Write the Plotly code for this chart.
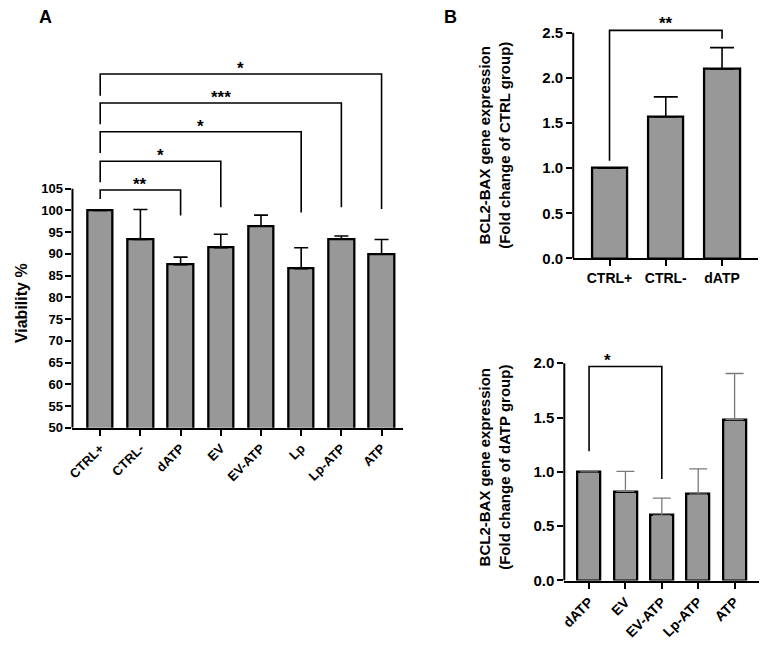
import plotly.graph_objects as go

W, H = 766, 653
FONT = "Liberation Sans, Arial, Helvetica, sans-serif"
BAR_FILL = "#989898"

# ---------------- Panel A data ----------------
a_cats = ["CTRL+", "CTRL-", "dATP", "EV", "EV-ATP", "Lp", "Lp-ATP", "ATP"]
a_vals = [100.0, 93.3, 87.5, 91.4, 96.4, 86.6, 93.4, 89.9]
a_err = [0.0, 6.9, 1.75, 3.1, 2.5, 4.8, 0.7, 3.4]
a_ticks = [50, 55, 60, 65, 70, 75, 80, 85, 90, 95, 100, 105]
# brackets: left cat, right cat, bar level, left leg end, right leg end, label
a_br_left = ["CTRL+"] * 5
a_br_right = ["dATP", "EV", "Lp", "Lp-ATP", "ATP"]
a_br_y = [104.7, 111.3, 118.1, 124.7, 131.4]
a_br_lend = [102.6, 106.5, 113.2, 119.8, 126.4]
a_br_rend = [98.8, 100.7, 99.5, 100.7, 100.3]
a_br_lab = ["**", "*", "*", "***", "*"]
a_br_labx = [1.0, 1.5, 2.5, 3.0, 3.5]

# ---------------- Panel B top data ----------------
b1_cats = ["CTRL+", "CTRL-", "dATP"]
b1_vals = [1.0, 1.57, 2.10]
b1_err = [0.0, 0.22, 0.235]
b1_ticks = [0.0, 0.5, 1.0, 1.5, 2.0, 2.5]
b1_tick_text = ["0.0", "0.5", "1.0", "1.5", "2.0", "2.5"]
b1_br = dict(left="CTRL+", right="dATP", y=2.527, lend=1.083, rend=2.433, lab="**", labx=1.0)

# ---------------- Panel B bottom data ----------------
b2_cats = ["dATP", "EV", "EV-ATP", "Lp-ATP", "ATP"]
b2_vals = [1.0, 0.82, 0.60, 0.795, 1.48]
b2_err = [0.0, 0.185, 0.158, 0.232, 0.425]
b2_ticks = [0.0, 0.5, 1.0, 1.5, 2.0]
b2_tick_text = ["0.0", "0.5", "1.0", "1.5", "2.0"]
b2_br = dict(left="dATP", right="EV-ATP", y=1.97, lend=1.19, rend=0.934, lab="*", labx=0.5)


def px_x(p):
    return p / W


def px_y(p):
    return 1 - p / H


def b(s):
    return "<b>" + str(s) + "</b>"


fig = go.Figure()


def add_bars(cats, vals, errs, xa, ya, err_color, err_thick, cap):
    fig.add_trace(go.Bar(
        x=cats, y=vals, xaxis=xa, yaxis=ya, width=0.63,
        marker=dict(color=BAR_FILL, line=dict(color="black", width=2.3)),
        error_y=dict(type="data", array=errs, arrayminus=[0] * len(errs), symmetric=False,
                     color=err_color, thickness=err_thick, width=cap, visible=True),
        showlegend=False, hoverinfo="skip",
    ))


def add_bracket(left, right, y, lend, rend, xa, ya):
    fig.add_trace(go.Scatter(
        x=[left, left, right, right], y=[lend, y, y, rend], xaxis=xa, yaxis=ya,
        mode="lines", line=dict(color="black", width=1.6),
        showlegend=False, hoverinfo="skip", cliponaxis=False,
    ))


add_bars(a_cats, a_vals, a_err, "x", "y", "black", 1.6, 7)
for l, r, y, le, re_ in zip(a_br_left, a_br_right, a_br_y, a_br_lend, a_br_rend):
    add_bracket(l, r, y, le, re_, "x", "y")

add_bars(b1_cats, b1_vals, b1_err, "x2", "y2", "black", 1.6, 12)
add_bracket(b1_br["left"], b1_br["right"], b1_br["y"], b1_br["lend"], b1_br["rend"], "x2", "y2")

add_bars(b2_cats, b2_vals, b2_err, "x3", "y3", "#7a7a7a", 1.3, 9)
add_bracket(b2_br["left"], b2_br["right"], b2_br["y"], b2_br["lend"], b2_br["rend"], "x3", "y3")

tickfont_a = dict(family=FONT, size=13, color="black")
tickfont_b = dict(family=FONT, size=15, color="black")
xtickfont_b = dict(family=FONT, size=14, color="black")

common_x = dict(type="category", showline=True, linecolor="black", linewidth=2,
                ticks="outside", ticklen=6, tickwidth=2, tickcolor="black",
                showgrid=False, zeroline=False, fixedrange=True)
common_y = dict(showline=False, ticks="outside", ticklen=6, tickwidth=2, tickcolor="black",
                showgrid=False, zeroline=False, fixedrange=True)

fig.update_layout(
    width=W, height=H, margin=dict(l=0, r=0, t=0, b=0),
    paper_bgcolor="white", plot_bgcolor="white",
    font=dict(family=FONT, color="black"),
    bargap=0,
    xaxis=dict(**common_x, domain=[px_x(67), px_x(400)], range=[-0.69, 7.53],
               tickangle=-45, tickfont=tickfont_a, anchor="y",
               tickvals=a_cats, ticktext=[b(c) for c in a_cats]),
    yaxis=dict(**common_y, domain=[px_y(433), px_y(59)], range=[50, 135],
               tickvals=a_ticks, ticktext=[b(t) for t in a_ticks], tickfont=tickfont_a, anchor="x"),
    xaxis2=dict(**common_x, domain=[px_x(571.7), px_x(758)], range=[-0.645, 2.64],
                tickangle=0, tickfont=xtickfont_b, anchor="y2",
                tickvals=b1_cats, ticktext=[b(c) for c in b1_cats]),
    yaxis2=dict(**common_y, domain=[px_y(261.7), px_y(14.9)], range=[0, 2.7],
                tickvals=b1_ticks, ticktext=[b(t) for t in b1_tick_text], tickfont=tickfont_b,
                anchor="x2"),
    xaxis3=dict(**common_x, domain=[px_x(562.7), px_x(759.3)], range=[-0.68, 4.68],
                tickangle=-45, tickfont=xtickfont_b, anchor="y3",
                tickvals=b2_cats, ticktext=[b(c) for c in b2_cats]),
    yaxis3=dict(**common_y, domain=[px_y(587.7), px_y(351.2)], range=[0, 2.15],
                tickvals=b2_ticks, ticktext=[b(t) for t in b2_tick_text], tickfont=tickfont_b,
                anchor="x3"),
)

# y axis lines only up to the last tick
shapes = [
    dict(type="line", xref="x domain", yref="y", x0=0, x1=0, y0=50, y1=105,
         line=dict(color="black", width=2)),
    dict(type="line", xref="x2 domain", yref="y2", x0=0, x1=0, y0=0, y1=2.5,
         line=dict(color="black", width=2)),
    dict(type="line", xref="x3 domain", yref="y3", x0=0, x1=0, y0=0, y1=2.0,
         line=dict(color="black", width=2)),
]
fig.update_layout(shapes=shapes)

star_font = dict(family=FONT, size=17, color="black")
ann = []
for lx, y, lab in zip(a_br_labx, a_br_y, a_br_lab):
    ann.append(dict(x=lx, y=y, xref="x", yref="y", text=b(lab), showarrow=False,
                    font=star_font, xanchor="center", yanchor="bottom", yshift=-6))
ann.append(dict(x=b1_br["labx"], y=b1_br["y"], xref="x2", yref="y2", text=b(b1_br["lab"]),
                showarrow=False, font=star_font, xanchor="center", yanchor="bottom", yshift=-5))
ann.append(dict(x=b2_br["labx"], y=b2_br["y"], xref="x3", yref="y3", text=b(b2_br["lab"]),
                showarrow=False, font=star_font, xanchor="center", yanchor="bottom", yshift=-6))

title_font = dict(family=FONT, size=16, color="black")
ytitle_font = dict(family=FONT, size=15, color="black")
letter_font = dict(family=FONT, size=18, color="black")
ann += [
    dict(x=px_x(40), y=px_y(17), xref="paper", yref="paper", text=b("A"), showarrow=False,
         font=letter_font, xanchor="center", yanchor="middle"),
    dict(x=px_x(448), y=px_y(17), xref="paper", yref="paper", text=b("B"), showarrow=False,
         font=letter_font, xanchor="center", yanchor="middle"),
    dict(x=px_x(15), y=px_y(307), xref="paper", yref="paper", text=b("Viability %"),
         textangle=-90, showarrow=False, font=title_font, xanchor="center", yanchor="middle"),
    dict(x=px_x(492.5), y=px_y(147), xref="paper", yref="paper",
         text=b("BCL2-BAX gene expression<br>(Fold change of CTRL group)"),
         textangle=-90, showarrow=False, font=ytitle_font, xanchor="center", yanchor="middle"),
    dict(x=px_x(492.5), y=px_y(473), xref="paper", yref="paper",
         text=b("BCL2-BAX gene expression<br>(Fold change of dATP group)"),
         textangle=-90, showarrow=False, font=ytitle_font, xanchor="center", yanchor="middle"),
]
fig.update_layout(annotations=ann)

fig.write_html(
    "out.html",
    config={"displayModeBar": False, "responsive": False},
    post_script="document.body.style.margin='0px';document.body.style.overflow='hidden';",
)
